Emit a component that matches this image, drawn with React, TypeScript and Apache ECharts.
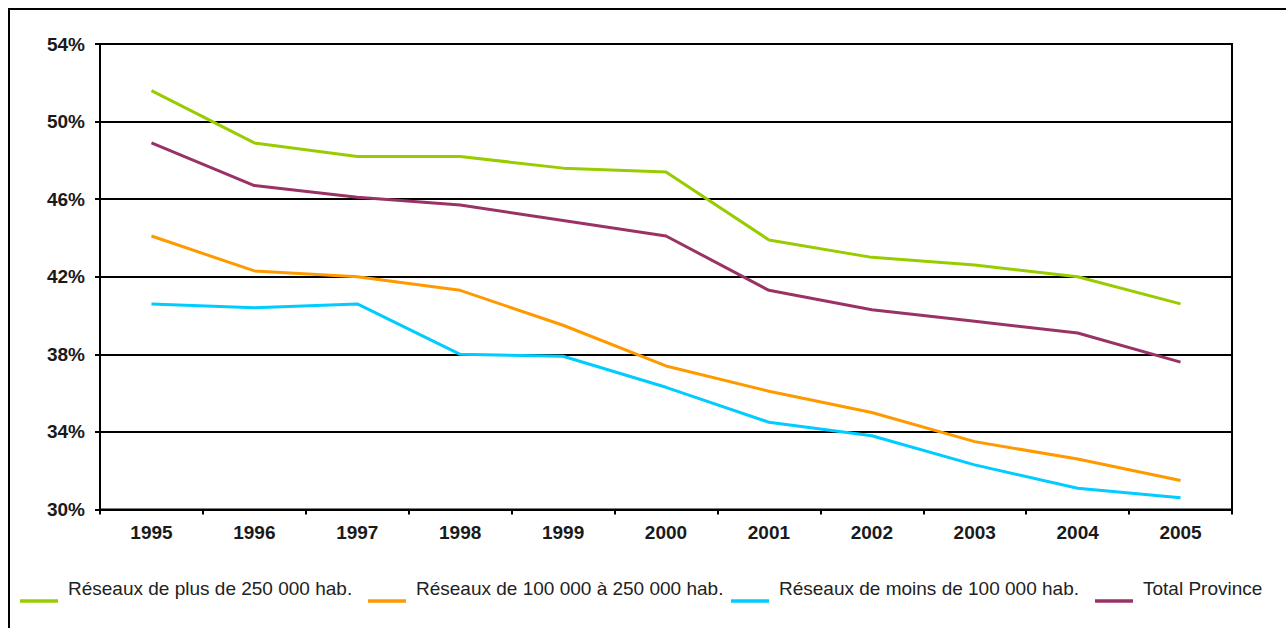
import React, { useEffect, useRef } from "react";
import * as echarts from "echarts";

const years = ["1995", "1996", "1997", "1998", "1999", "2000", "2001", "2002", "2003", "2004", "2005"];
const plus250k = [51.6, 48.9, 48.2, 48.2, 47.6, 47.4, 43.9, 43.0, 42.6, 42.0, 40.6];
const from100kTo250k = [44.1, 42.3, 42.0, 41.3, 39.5, 37.4, 36.1, 35.0, 33.5, 32.6, 31.5];
const under100k = [40.6, 40.4, 40.6, 38.0, 37.9, 36.3, 34.5, 33.8, 32.3, 31.1, 30.6];
const totalProvince = [48.9, 46.7, 46.1, 45.7, 44.9, 44.1, 41.3, 40.3, 39.7, 39.1, 37.6];

const seriesNames = [
  "Réseaux de plus de 250 000 hab.",
  "Réseaux de 100 000 à 250 000 hab.",
  "Réseaux de moins de 100 000 hab.",
  "Total Province",
];
const seriesColors = ["#99CC00", "#FF9900", "#00CCFF", "#993366"];
const seriesData = [plus250k, from100kTo250k, under100k, totalProvince];
const legendLefts = [20, 368, 731, 1095];

const FONT = 'Arial, "Liberation Sans", Helvetica, sans-serif';

export default function App() {
  const ref = useRef<HTMLDivElement>(null);

  useEffect(() => {
    if (!ref.current) return;
    const chart = echarts.init(ref.current, undefined, { renderer: "svg" });

    const legendGraphics: any[] = [];
    seriesNames.forEach((name, i) => {
      const x = legendLefts[i];
      legendGraphics.push({
        type: "line",
        shape: { x1: x, y1: 601, x2: x + 38, y2: 601 },
        style: { stroke: seriesColors[i], lineWidth: 3.5 },
      });
      legendGraphics.push({
        type: "text",
        x: x + 48,
        y: 588,
        style: {
          text: name,
          fill: "#222",
          font: `19px ${FONT}`,
          textAlign: "left",
          textVerticalAlign: "middle",
        },
      });
    });

    const option: any = {
      animation: false,
      backgroundColor: "#ffffff",
      grid: {
        left: 100,
        top: 44,
        right: 54,
        bottom: 118.5,
        show: true,
        borderColor: "#000",
        borderWidth: 2,
      },
      xAxis: {
        type: "category",
        data: years,
        boundaryGap: true,
        axisLine: { show: true, lineStyle: { color: "#000", width: 2 } },
        axisTick: { show: true, length: 5, inside: false, lineStyle: { color: "#000", width: 2 } },
        axisLabel: {
          margin: 13,
          color: "#1a1a1a",
          fontFamily: FONT,
          fontSize: 19,
          fontWeight: "bold",
        },
        splitLine: { show: false },
      },
      yAxis: {
        type: "value",
        min: 30,
        max: 54,
        interval: 4,
        axisLine: { show: true, lineStyle: { color: "#000", width: 2 } },
        axisTick: { show: true, length: 5, lineStyle: { color: "#000", width: 2 } },
        axisLabel: {
          formatter: "{value}%",
          margin: 15,
          color: "#1a1a1a",
          fontFamily: FONT,
          fontSize: 19,
          fontWeight: "bold",
        },
        splitLine: { show: true, lineStyle: { color: "#000", width: 2 } },
      },
      series: seriesNames.map((name, i) => ({
        name,
        type: "line",
        data: seriesData[i],
        symbol: "none",
        showSymbol: false,
        lineStyle: { color: seriesColors[i], width: 3 },
        itemStyle: { color: seriesColors[i] },
      })),
      graphic: [
        {
          type: "line",
          shape: { x1: 8, y1: 9, x2: 1286, y2: 9 },
          style: { stroke: "#000", lineWidth: 2 },
        },
        {
          type: "line",
          shape: { x1: 9, y1: 8, x2: 9, y2: 628 },
          style: { stroke: "#000", lineWidth: 2 },
        },
        ...legendGraphics,
      ],
    };
    chart.setOption(option);
    return () => chart.dispose();
  }, []);

  return (
    <div
      ref={ref}
      style={{ position: "absolute", left: 0, top: 0, width: 1286, height: 628 }}
    />
  );
}
